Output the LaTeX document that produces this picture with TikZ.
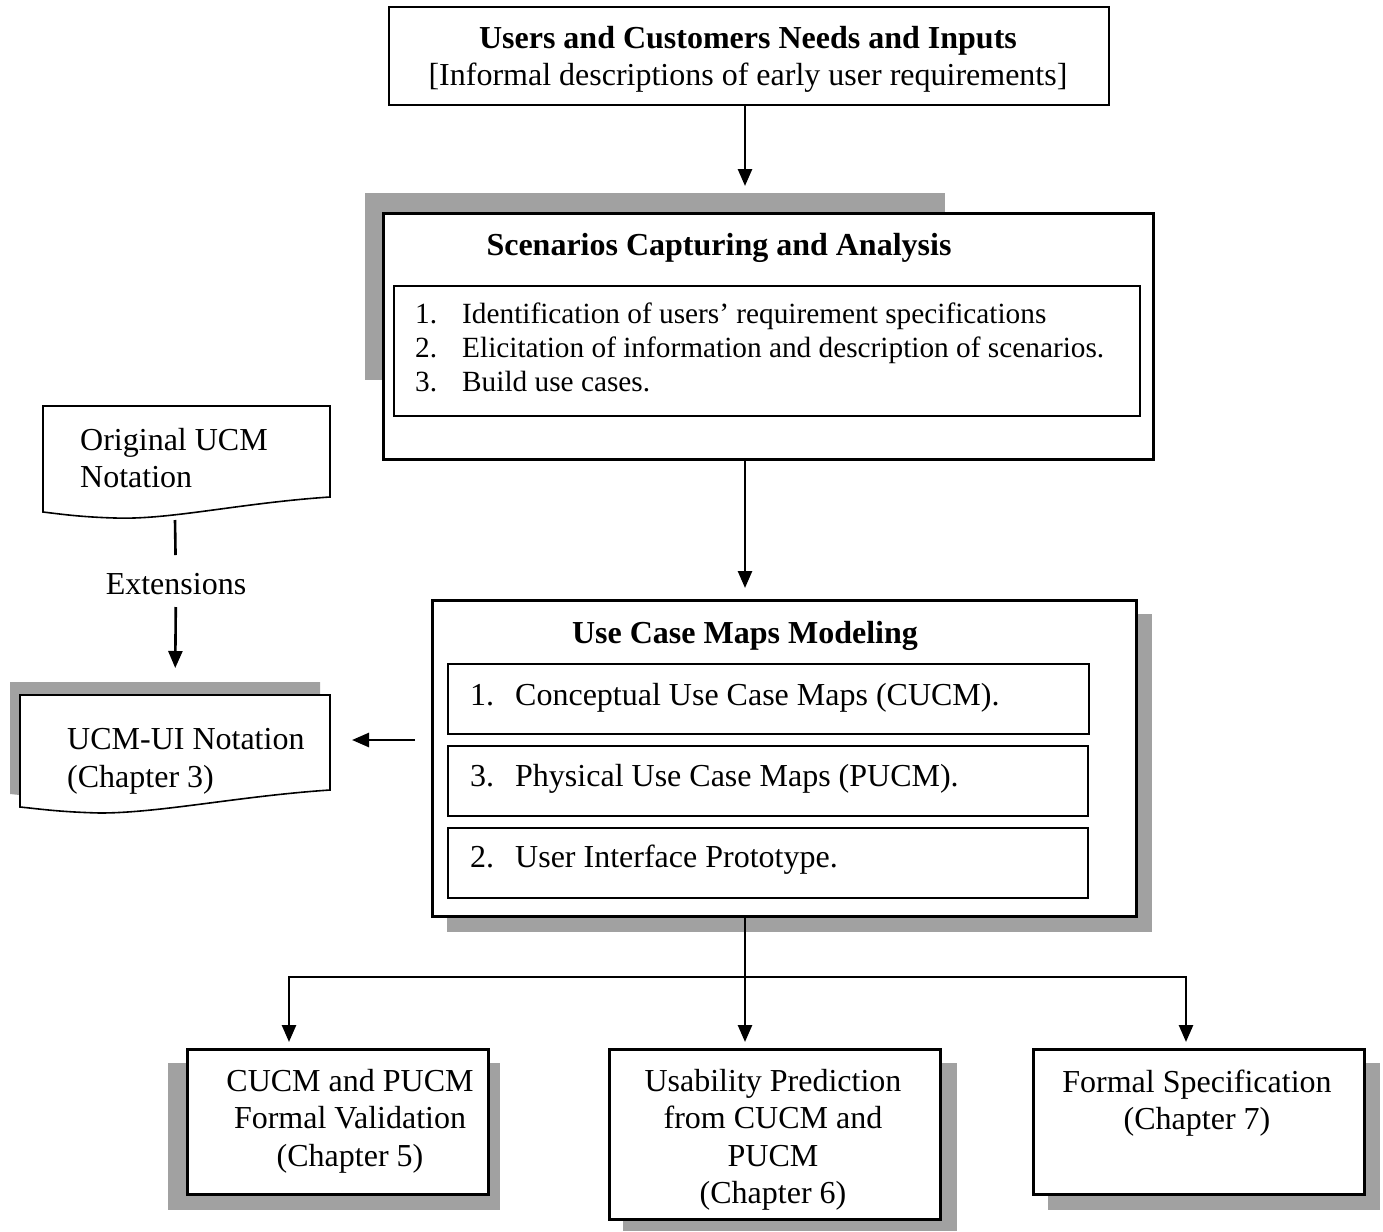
\documentclass[tikz,border=0pt]{standalone}
\usepackage{fontspec}
\setmainfont{Liberation Serif}
\usetikzlibrary{arrows.meta,calc}
\begin{document}
\begin{tikzpicture}[x=1pt,y=-1pt,
  every node/.style={font=\fontsize{32}{37.5}\selectfont},
  box/.style={draw, line width=2pt, fill=white, anchor=north west, inner sep=0pt},
  thickbox/.style={box, line width=3.2pt},
  shadow/.style={fill=black!37},
  arr/.style={line width=2.6pt, -{Triangle[length=17pt,width=14pt]}},
  conn/.style={line width=2.6pt},
  item/.style={anchor=base west, inner sep=0pt},
  smallitem/.style={item, font=\fontsize{29.3}{34}\selectfont},
  ttl/.style={font=\fontsize{32}{37.5}\selectfont\bfseries}]
\useasboundingbox (0,0) rectangle (1383,1231);

% top input box
\node[box, minimum width=720pt, minimum height=98pt] (top) at (388,6) {};
\node[ttl, align=center] (topt) at (748,59.5) {Users and Customers Needs and Inputs\\
  \mdseries [Informal descriptions of early user requirements]};

% scenario capture and analysis
\fill[shadow] (365,193) rectangle (945,380);
\node[thickbox, minimum width=770pt, minimum height=246pt] (scen) at (382,212) {};
\node[ttl] (scent) at (719,248) {Scenarios Capturing and Analysis};
\node[box, minimum width=746pt, minimum height=130pt] (scenl) at (393,285) {};
\node[smallitem] (s1) at (415,323) {\makebox[47pt][l]{1.}Identification of users’ requirement specifications};
\node[smallitem] (s2) at (415,357) {\makebox[47pt][l]{2.}Elicitation of information and description of scenarios.};
\node[smallitem] (s3) at (415,391) {\makebox[47pt][l]{3.}Build use cases.};

% use case maps modeling
\fill[shadow] (447,614) rectangle (1152,932);
\node[thickbox, minimum width=704pt, minimum height=316pt] (ucm) at (431,599) {};
\node[ttl] (ucmt) at (745,636) {Use Case Maps Modeling};
\node[box, minimum width=641pt, minimum height=70pt] (u1) at (447,663) {};
\node[box, minimum width=640pt, minimum height=70pt] (u2) at (447,745) {};
\node[box, minimum width=640pt, minimum height=70pt] (u3) at (447,827) {};
\node[item] (u1t) at (470,705) {\makebox[45pt][l]{1.}Conceptual Use Case Maps (CUCM).};
\node[item] (u2t) at (470,786) {\makebox[45pt][l]{3.}Physical Use Case Maps (PUCM).};
\node[item] (u3t) at (470,867) {\makebox[45pt][l]{2.}User Interface Prototype.};

% notation documents
\draw[line width=1.6pt, fill=white] (43,406) -- (330,406) -- (330,497)
  .. controls (240,503) and (170,520) .. (115,518)
  .. controls (80,517) and (60,514) .. (43,512) -- cycle;
\node[item] (o1) at (80,450) {Original UCM};
\node[item] (o2) at (80,487) {Notation};
\coordinate (d1b) at (175,520);

\fill[shadow] (10,682) -- (320,682) -- (320,777)
  .. controls (230,783) and (150,800) .. (90,800)
  .. controls (50,799) and (30,796) .. (10,794) -- cycle;
\draw[line width=1.6pt, fill=white] (20,695) -- (330,695) -- (330,790)
  .. controls (240,796) and (160,813) .. (100,813)
  .. controls (60,812) and (40,809) .. (20,807) -- cycle;
\node[item] (n1) at (67,749) {UCM-UI Notation};
\node[item] (n2) at (67,787) {(Chapter 3)};
\coordinate (d2t) at (175,695);
\coordinate (d2e) at (330,740);

\node (ext) at (176,584) {Extensions};
\draw[conn, shorten >=29pt] (d1b) -- (ext.center);
\draw[arr, shorten <=23pt, shorten >=27pt] (ext.center) -- (d2t);
\draw[arr, shorten <=16pt, shorten >=22pt] (d2e -| ucm.west) -- (d2e);

% result boxes
\fill[shadow] (168,1063) rectangle (500,1210);
\node[thickbox, minimum width=301pt, minimum height=145pt] (b1) at (186,1048) {};
\node[align=center] (b1t) at (350,1121) {CUCM and PUCM\\Formal Validation\\(Chapter 5)};

\fill[shadow] (623,1063) rectangle (957,1231);
\node[thickbox, minimum width=331pt, minimum height=170pt] (b2) at (608,1048) {};
\node[align=center] (b2t) at (773,1140) {Usability Prediction\\from CUCM and\\PUCM\\(Chapter 6)};

\fill[shadow] (1048,1063) rectangle (1380,1210);
\node[thickbox, minimum width=331pt, minimum height=145pt] (b3) at (1032,1048) {};
\node[align=center] (b3t) at (1197,1103) {Formal Specification\\(Chapter 7)};

% flow connectors
\coordinate (j) at (745,977);
\coordinate (a1) at (289,1042);
\coordinate (a2) at (745,1042);
\coordinate (a3) at (1186,1042);
\draw[arr, shorten >=26pt] (top.south -| j) -- (scen.north -| j);
\draw[arr, shorten >=11pt] (scen.south -| j) -- (ucm.north -| j);
\draw[conn] (ucm.south -| j) -- (j);
\draw[arr] (j) -| (a1);
\draw[arr] (j) -- (a2);
\draw[arr] (j) -| (a3);
\end{tikzpicture}
\end{document}
